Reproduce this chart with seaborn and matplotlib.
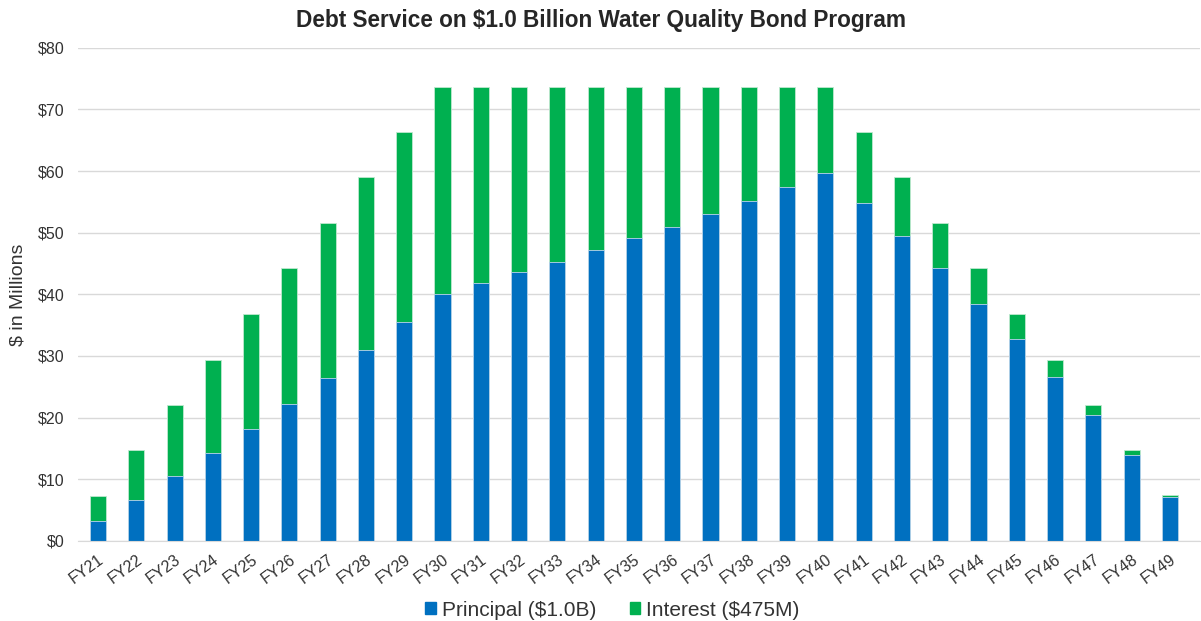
import pandas as pd
import matplotlib.pyplot as plt
import seaborn as sns
from matplotlib.patches import Patch
from matplotlib.ticker import FuncFormatter

sns.set_style("white")
plt.rcParams['font.family'] = ['Liberation Sans', 'DejaVu Sans']

# Data ($ millions)
years = ["FY%d" % y for y in range(21, 50)]
principal = [3.3, 6.7, 10.5, 14.2, 18.2, 22.2, 26.4, 30.9, 35.5, 40.1,
             41.9, 43.6, 45.3, 47.2, 49.1, 51.0, 53.1, 55.2, 57.4, 59.7,
             54.8, 49.5, 44.2, 38.5, 32.7, 26.6, 20.4, 13.9, 7.1]
total = [7.3, 14.7, 22.1, 29.4, 36.8, 44.2, 51.5, 59.0, 66.3, 73.7,
         73.7, 73.7, 73.7, 73.7, 73.7, 73.7, 73.7, 73.7, 73.7, 73.7,
         66.3, 59.0, 51.6, 44.2, 36.8, 29.4, 22.1, 14.7, 7.4]
interest = [t - p for t, p in zip(total, principal)]

df = pd.DataFrame({"year": years, "principal": principal,
                   "interest": interest, "total": total})

blue = "#0070C0"
green = "#00B050"
txt = "#333333"

fig = plt.figure(figsize=(12.01, 6.21), dpi=100)
ax = fig.add_axes([0.065, 0.129, 0.934, 0.794])

# stacked: total bar in green, principal on top in blue
sns.barplot(data=df, x="year", y="total", color=green, width=0.42,
            edgecolor="#BFE8CF", linewidth=0.6, saturation=1, ax=ax)
sns.barplot(data=df, x="year", y="principal", color=blue, width=0.42,
            edgecolor="#BCD4EC", linewidth=0.6, saturation=1, ax=ax)

ax.set_ylim(0, 80)
ax.set_yticks(range(0, 81, 10))
ax.yaxis.set_major_formatter(FuncFormatter(lambda v, p: "$%d" % v))
ax.set_xlim(-0.52, len(years) - 0.22)
ax.grid(axis="y", color="#D9D9D9", linewidth=1)
ax.set_axisbelow(True)
for s in ["top", "right", "left"]:
    ax.spines[s].set_visible(False)
ax.spines["bottom"].set_color("#D9D9D9")
ax.tick_params(axis="both", length=0, labelsize=11.5, colors=txt)
ax.tick_params(axis="y", pad=10)
plt.setp(ax.get_xticklabels(), rotation=36, ha="right", rotation_mode="anchor")
ax.tick_params(axis="x", pad=8)
ax.set_xlabel("")
ax.set_ylabel("$ in Millions", fontsize=14, color=txt, labelpad=8)
fig.suptitle("Debt Service on $1.0 Billion Water Quality Bond Program",
             fontsize=16.3, fontweight="bold", x=0.5, y=0.985, va="top")

handles = [Patch(color=blue, label="Principal ($1.0B)"),
           Patch(color=green, label="Interest ($475M)")]
fig.legend(handles=handles, loc="lower center", ncol=2, frameon=False,
           fontsize=15, bbox_to_anchor=(0.51, -0.028), handlelength=0.5,
           handleheight=0.5, handletextpad=0.3, columnspacing=1.6,
           labelcolor=txt)

plt.savefig("out.png", dpi=100)
plt.close()
